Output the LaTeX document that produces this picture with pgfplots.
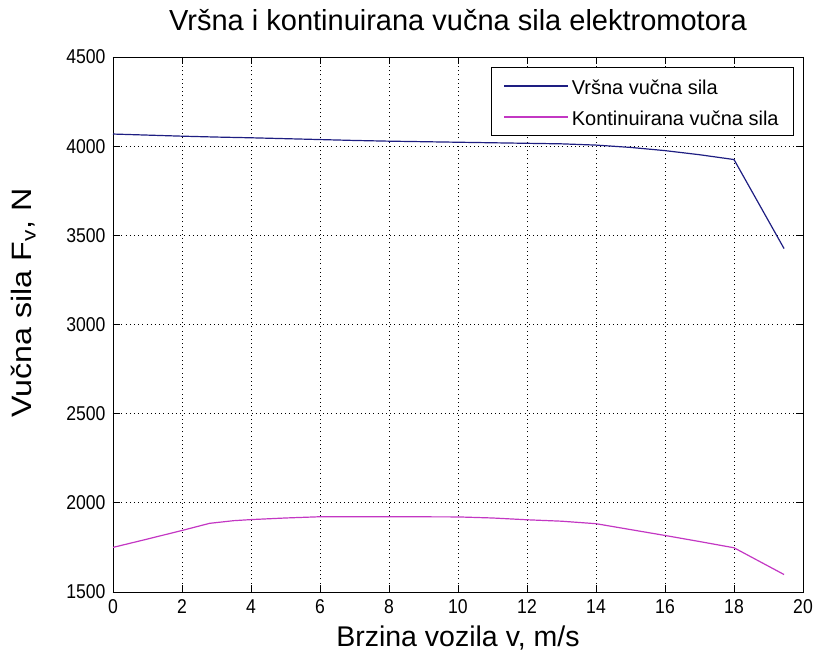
\documentclass[border=0pt]{standalone}
\usepackage{pgfplots}
\pgfplotsset{compat=1.18}
\usepackage{fontspec}
\setmainfont{Liberation Sans}
\newfontfamily\tickfont{Liberation Sans}[FakeStretch=0.88]
\newfontfamily\ylabfont{Liberation Sans}[FakeStretch=1.15]
\definecolor{vblue}{RGB}{30,30,130}
\definecolor{vpink}{RGB}{195,55,195}
\begin{document}
\begin{tikzpicture}
\begin{axis}[
 name=main,
 scale only axis, width=690pt, height=535pt,
 xmin=0, xmax=20, ymin=1500, ymax=4500,
 xtick={0,2,...,20}, ytick={1500,2000,...,4500},
 tick align=inside, major tick length=7pt,
 axis line style={line width=0.9pt},
 every tick/.style={black, line width=0.9pt},
 grid=major,
 major grid style={black, line width=0.8pt, dash pattern=on 1pt off 3.2pt},
 /pgf/number format/assume math mode=true,
 /pgf/number format/1000 sep={},
 tick label style={font=\tickfont\fontsize{20}{22}\selectfont},
 xticklabel style={yshift=-4pt},
 yticklabel style={xshift=-4pt},
 title={Vršna i kontinuirana vučna sila elektromotora},
 title style={font=\fontsize{29}{32}\selectfont, at={(rel axis cs:0.5,1)}, anchor=base, yshift=20pt, inner sep=0pt},
 xlabel={Brzina vozila v, m/s},
 xlabel style={font=\fontsize{28.5}{30}\selectfont, at={(rel axis cs:0.5,0)}, anchor=base, yshift=-55pt, inner sep=0pt},
 ylabel={Vučna sila F\textsubscript{v}, N},
 ylabel style={font=\ylabfont\fontsize{28}{30}\selectfont, at={([xshift=-81pt]rel axis cs:0,0.54)}, anchor=base, inner sep=0pt},
 legend style={at={(rel axis cs:0.987,0.981)}, anchor=north east, draw=black, line width=0.8pt, fill=white,
   font=\fontsize{20}{22}\selectfont, inner xsep=12pt, inner ysep=5pt, row sep=4pt,
   nodes={inner sep=3pt, text height=19pt, text depth=2pt}},
 legend cell align=left,
 legend image code/.code={\draw[#1] (0pt,0pt) -- (64pt,0pt);},
]
\addplot[vblue, line width=1.2pt] coordinates {
 (0,4068) (1,4062) (2,4056) (3,4051) (4,4047) (5,4042) (6,4037) (7,4032)
 (8,4028) (9,4025) (10,4022) (11,4019) (12,4016) (13,4013) (14,4006)
 (15,3993) (16,3975) (17,3952) (18,3925) (19.45,3426)};
\addlegendentry{Vršna vučna sila}
\addplot[vpink, line width=1.2pt] coordinates {
 (0,1750) (1,1797) (2,1845) (2.8,1885) (3.5,1900) (4,1906) (5,1915) (6,1922)
 (8,1922) (10,1921) (11,1915) (12,1905) (13,1897) (14,1883) (15,1850)
 (16,1817) (17,1783) (18,1748) (19.45,1598)};
\addlegendentry{Kontinuirana vučna sila}
\end{axis}
\pgfresetboundingbox
\path ([shift={(-113pt,-63pt)}]main.south west) rectangle ([shift={(11pt,57pt)}]main.north east);
\end{tikzpicture}
\end{document}
